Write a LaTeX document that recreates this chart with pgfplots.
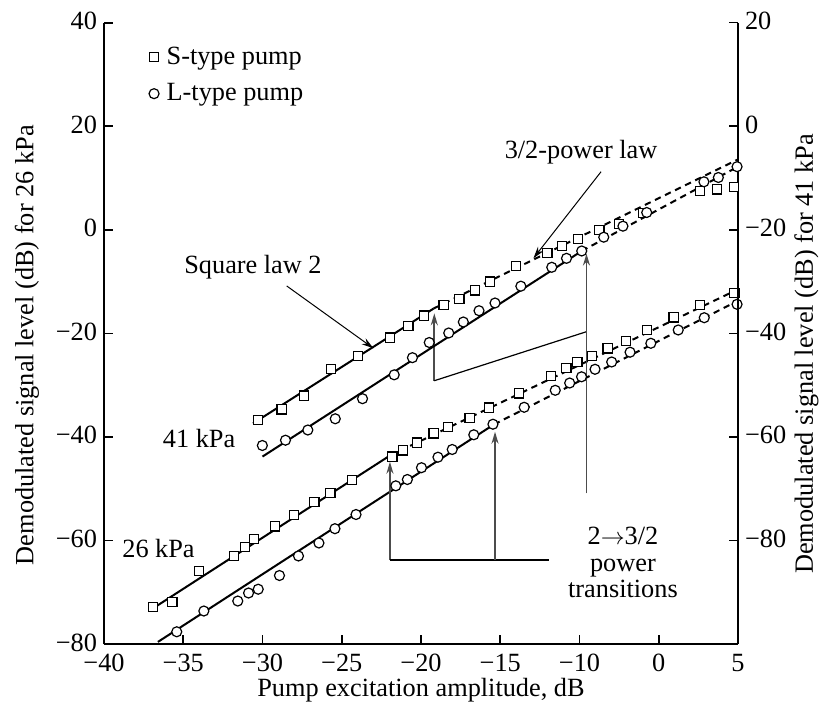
\documentclass[border=0pt]{standalone}
\usepackage{fontspec}
\setmainfont{Liberation Serif}
\usepackage{pgfplots}
\pgfplotsset{compat=1.18}
\usetikzlibrary{arrows.meta}

\newcommand{\lbl}{\fontsize{13.2}{15}\selectfont}

\pgfplotsset{
  sigaxis/.style={
    scale only axis,
    width=317bp, height=310.65bp,
    xmin=-40, xmax=0,
    tick align=inside,
    major tick length=4.5bp,
    axis line style={line width=0.8bp, -},
    tick style={line width=0.8bp, black},
    tick label style={font=\lbl},
  },
  fitline/.style={black, line width=1bp, no marks},
  dashfit/.style={black, line width=1bp, no marks, dash pattern=on 3.2bp off 2.4bp},
  sq/.style={only marks, mark=square*, mark size=2.3bp,
    mark options={fill=white, draw=black, line width=0.6bp}},
  ci/.style={only marks, mark=*, mark size=2.5bp,
    mark options={fill=white, draw=black, line width=0.6bp}},
}

\begin{document}
\begin{tikzpicture}
% 26 kPa: left axis
\begin{axis}[sigaxis,
  axis x line*=bottom, axis y line*=left,
  ymin=-80, ymax=40,
  xtick={-40,-35,...,0},
  xticklabels={−40,−35,−30,−25,−20,−15,−10,0,5},
  xticklabel style={yshift=-1.5bp},
  ytick={-80,-60,...,40},
  yticklabels={−80,−60,−40,−20,0,20,40},
  yticklabel style={yshift=0.8bp},
  xlabel={Pump excitation amplitude, dB},
  ylabel={Demodulated signal level (dB) for 26 kPa},
  every axis x label/.style={at={(axis description cs:0.5,-0.074)}, anchor=center, font=\lbl},
  every axis y label/.style={at={(axis description cs:-0.1215,0.481)}, rotate=90, anchor=center, font=\lbl},
  legend style={at={(axis description cs:0.061,0.975)}, anchor=north west,
    draw=none, fill=none, font=\lbl, row sep=4.3bp},
  legend cell align=left,
  legend image code/.code={\draw[#1] plot coordinates {(0bp,0bp)}; \path (4.1bp,0bp);},
]
\addplot[fitline, forget plot] coordinates {(-36.9,-73.1) (-21.96,-43.6)};
\addplot[dashfit, forget plot] coordinates {(-21.96,-43.6) (0,-11.5)};
\addplot[fitline, forget plot] coordinates {(-36.6,-79.6) (-15.4,-37.6)};
\addplot[dashfit, forget plot] coordinates {(-15.4,-37.6) (0,-13.7)};

\addplot[sq] coordinates {
  (-36.89,-72.80) (-35.69,-71.89) (-33.99,-65.90) (-31.79,-63.00) (-31.10,-61.23)
  (-30.52,-59.76) (-29.23,-57.27) (-28.00,-55.14) (-26.73,-52.54) (-25.72,-50.87)
  (-24.37,-48.36) (-21.80,-43.82) (-21.15,-42.59) (-20.25,-41.12) (-19.21,-39.34)
  (-18.28,-38.03) (-16.94,-36.31) (-15.71,-34.36) (-13.82,-31.58) (-11.80,-28.20)
  (-10.83,-26.69) (-10.13,-25.53) (-9.21,-24.34) (-8.23,-22.89) (-7.08,-21.44)
  (-5.76,-19.35) (-4.06,-16.90) (-2.38,-14.52) (-0.23,-12.15)
};
\addlegendentry{S-type pump}
\addplot[ci] coordinates {
  (-35.41,-77.64) (-33.70,-73.63) (-31.56,-71.70) (-30.88,-70.15) (-30.27,-69.42)
  (-28.93,-66.77) (-27.73,-63.00) (-26.44,-60.49) (-25.43,-57.73) (-24.10,-54.99)
  (-21.59,-49.45) (-20.86,-48.23) (-19.97,-45.95) (-18.93,-43.92) (-18.03,-42.43)
  (-16.67,-39.59) (-15.46,-37.55) (-13.49,-34.28) (-11.53,-31.00) (-10.62,-29.59)
  (-9.87,-28.39) (-9.02,-26.94) (-7.97,-25.53) (-6.81,-23.64) (-5.50,-21.92)
  (-3.77,-19.35) (-2.13,-16.98) (-0.06,-14.39)
};
\addlegendentry{L-type pump}

% annotations
\draw[line width=0.5bp, -{Stealth[length=6bp,width=3.5bp]}] (axis cs:-28.47,-10.85) -- (axis cs:-23.0,-22.89);
\draw[line width=0.5bp, -{Stealth[length=6bp,width=3.5bp]}] (axis cs:-8.64,11.22) -- (axis cs:-12.91,-5.51);
\draw[black!70, line width=0.9bp, -{Stealth[length=6bp,width=3.5bp]}] (axis cs:-19.16,-29.15) -- (axis cs:-19.16,-16.13);
\draw[line width=0.6bp] (axis cs:-19.16,-29.15) -- (axis cs:-9.56,-19.68);
\draw[black!70, line width=0.9bp, -{Stealth[length=6bp,width=3.5bp]}] (axis cs:-9.56,-50.9) -- (axis cs:-9.56,-4.6);
\draw[black!70, line width=0.9bp, -{Stealth[length=6bp,width=3.5bp]}] (axis cs:-21.96,-63.78) -- (axis cs:-21.96,-44.8);
\draw[line width=0.6bp] (axis cs:-21.96,-63.78) -- (axis cs:-11.92,-63.78);
\draw[black!70, line width=0.9bp, -{Stealth[length=6bp,width=3.5bp]}] (axis cs:-15.33,-63.78) -- (axis cs:-15.33,-39.0);

\node[font=\lbl] at (axis cs:-30.6,-7.2) {Square law 2};
\node[font=\lbl] at (axis cs:-9.9,15.0) {3/2-power law};
\node[font=\lbl] at (axis cs:-34.0,-40.4) {41 kPa};
\node[font=\lbl] at (axis cs:-36.56,-61.65) {26 kPa};
\node[font=\fontsize{13.2}{13.3}\selectfont, align=center, inner sep=0pt] at (axis cs:-7.26,-64.3) {2$\rightarrow$3/2\\power\\transitions};
\end{axis}

% 41 kPa: right axis
\begin{axis}[sigaxis,
  axis x line=none, axis y line*=right,
  ymin=-100, ymax=20,
  ytick={-80,-60,...,20},
  yticklabels={−80,−60,−40,−20,0,20},
  yticklabel style={yshift=0.8bp},
  ylabel={Demodulated signal level (dB) for 41 kPa},
  every axis y label/.style={at={(axis description cs:1.108,0.467)}, rotate=90, anchor=center, font=\lbl},
]
\addplot[fitline] coordinates {(-30.6,-57.4) (-19.2,-35.2)};
\addplot[dashfit] coordinates {(-19.2,-35.2) (0,-6.4)};
\addplot[fitline] coordinates {(-30.0,-63.8) (-9.86,-24.1)};
\addplot[dashfit] coordinates {(-9.86,-24.1) (0,-7.8)};

\addplot[sq] coordinates {
  (-30.30,-56.74) (-28.79,-54.67) (-27.38,-52.04) (-25.69,-46.92) (-23.99,-44.37)
  (-21.94,-40.84) (-20.80,-38.58) (-19.80,-36.59) (-18.57,-34.53) (-17.58,-33.37)
  (-16.61,-31.69) (-15.63,-29.99) (-13.99,-27.05) (-12.02,-24.44) (-11.12,-23.13)
  (-10.11,-21.83) (-8.75,-20.04) (-7.51,-18.88) (-5.99,-16.81) (-2.40,-12.45)
  (-1.31,-12.18) (-0.25,-11.73)
};
\addplot[ci] coordinates {
  (-30.01,-61.66) (-28.55,-60.64) (-27.14,-58.67) (-25.41,-56.50) (-23.69,-52.62)
  (-21.69,-48.01) (-20.54,-44.70) (-19.48,-41.77) (-18.25,-39.93) (-17.33,-37.81)
  (-16.34,-35.63) (-15.33,-34.14) (-13.70,-30.89) (-11.75,-27.24) (-10.82,-25.51)
  (-9.86,-24.09) (-8.47,-21.43) (-7.26,-19.30) (-5.76,-16.66) (-2.15,-10.73)
  (-1.24,-9.90) (-0.06,-7.81)
};
\end{axis}
\pgfresetboundingbox
\path ([shift={(-52bp,-30.5bp)}]current axis.south west) rectangle ([shift={(41.5bp,11.35bp)}]current axis.north east);
\end{tikzpicture}
\end{document}
